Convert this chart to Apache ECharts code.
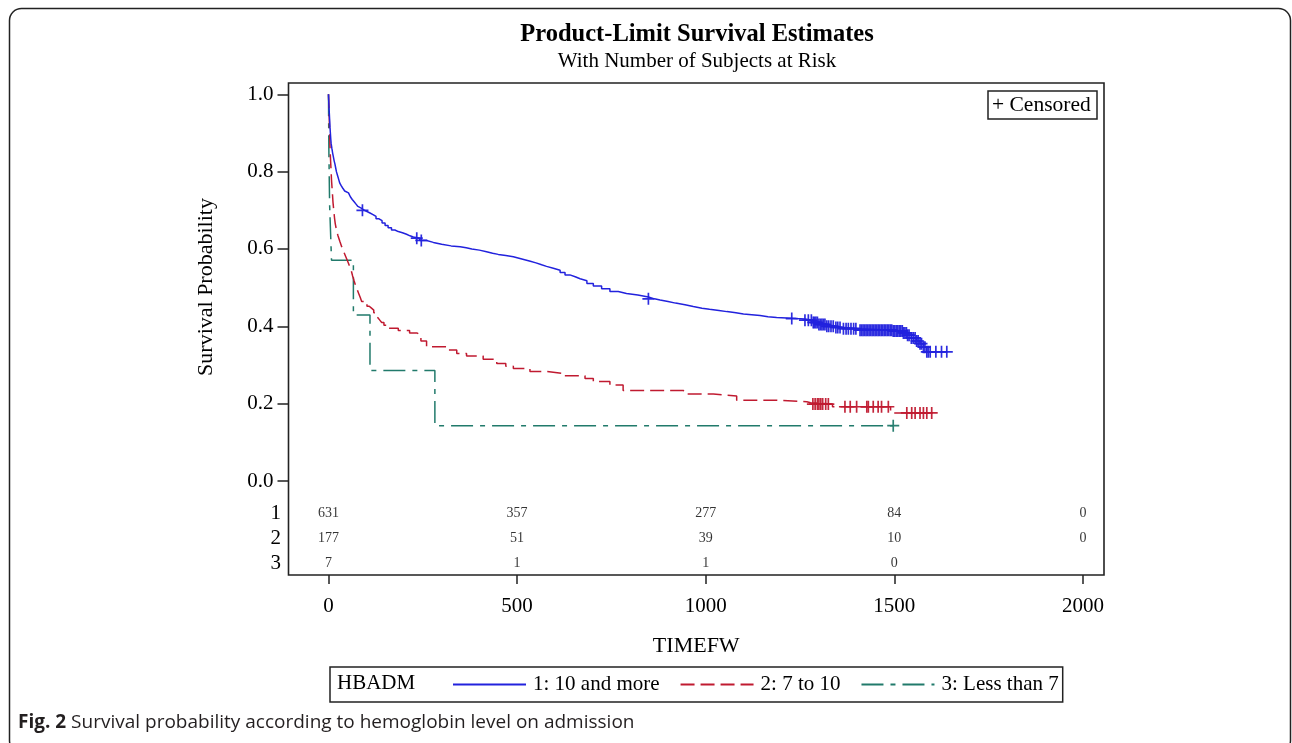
<!DOCTYPE html>
<html>
<head>
<meta charset="utf-8">
<script src="https://cdn.jsdelivr.net/npm/echarts@6/dist/echarts.min.js"></script>
<style>
html,body{margin:0;padding:0;background:#fff;}
#chart{width:1292px;height:743px;}
</style>
</head>
<body>
<div id="chart"></div>
<script>
// ---------- data ----------
var groupNames = ['1: 10 and more', '2: 7 to 10', '3: Less than 7'];
var xTicks = [0, 500, 1000, 1500, 2000];
var yTicks = [0, 0.2, 0.4, 0.6, 0.8, 1.0];

// Kaplan-Meier steps [time, survival]
var km1 = [[0,1.0],[1,0.975],[2,0.955],[3,0.935],[4,0.915],[5,0.9],[6,0.885],[7,0.873],[9,0.86],[11,0.848],[13,0.838],[15,0.828],[17,0.82],[19,0.81],[21,0.80],[24,0.79],[27,0.78],[30,0.77],[34,0.763],[38,0.757],[43,0.75],[48,0.745],[53,0.74],[58,0.735],[63,0.728],[68,0.722],[73,0.716],[78,0.71],[83,0.705],[88,0.70],[95,0.697],[102,0.693],[110,0.689],[118,0.684],[126,0.678],[134,0.673],[142,0.667],[150,0.661],[158,0.655],[167,0.649],[176,0.645],[185,0.642],[196,0.638],[207,0.634],[216,0.631],[225,0.628],[242,0.622],[260,0.617],[278,0.612],[300,0.608],[325,0.606],[349,0.603],[365,0.6],[380,0.597],[400,0.593],[419,0.589],[435,0.586],[450,0.583],[470,0.58],[490,0.576],[505,0.572],[520,0.568],[535,0.564],[550,0.559],[565,0.555],[578,0.55],[596,0.545],[614,0.539],[627,0.533],[640,0.528],[654,0.523],[667,0.518],[685,0.511],[702,0.504],[724,0.497],[746,0.49],[768,0.485],[790,0.481],[820,0.476],[848,0.471],[864,0.468],[879,0.464],[900,0.46],[920,0.456],[945,0.451],[967,0.447],[990,0.444],[1010,0.441],[1035,0.438],[1056,0.435],[1080,0.432],[1100,0.43],[1122,0.428],[1144,0.425],[1165,0.423],[1188,0.42],[1240,0.419],[1263,0.416],[1285,0.41],[1300,0.405],[1321,0.40],[1345,0.397],[1365,0.394],[1409,0.39],[1497,0.388],[1524,0.383],[1535,0.377],[1545,0.37],[1559,0.362],[1568,0.355],[1577,0.346],[1586,0.334],[1639,0.334]];
var km2 = [[0,1.0],[1,0.97],[2,0.94],[3,0.9],[4,0.864],[5,0.84],[6,0.82],[7,0.8],[8,0.778],[10,0.75],[12,0.72],[14,0.70],[16,0.68],[18,0.665],[21,0.65],[25,0.635],[30,0.62],[35,0.606],[40,0.594],[45,0.582],[50,0.57],[55,0.558],[60,0.545],[64,0.53],[68,0.517],[72,0.505],[76,0.495],[80,0.485],[84,0.475],[88,0.464],[95,0.458],[102,0.452],[108,0.447],[114,0.442],[120,0.435],[126,0.428],[131,0.422],[136,0.416],[141,0.41],[147,0.403],[154,0.395],[185,0.389],[215,0.383],[234,0.378],[245,0.362],[260,0.347],[313,0.339],[340,0.33],[366,0.323],[410,0.315],[446,0.304],[470,0.297],[490,0.291],[534,0.283],[580,0.278],[622,0.272],[680,0.265],[702,0.257],[746,0.248],[781,0.234],[940,0.231],[950,0.225],[1020,0.22],[1082,0.209],[1180,0.205],[1268,0.2025],[1278,0.199],[1336,0.192],[1490,0.176],[1599,0.176]];
var km3 = [[0,1.0],[1,0.857],[3,0.714],[8,0.571],[66,0.429],[110,0.286],[282,0.143],[1497,0.143]];

// censored observations [time, survival]
var cens1 = [[90,0.70],[234,0.628],[246,0.622],[848,0.471],[1228,0.42],[1263,0.416],[1272,0.416],[1280,0.416],[1285,0.41],[1288,0.41],[1292,0.41],[1296,0.41],[1300,0.405],[1304,0.405],[1308,0.405],[1312,0.405],[1316,0.405],[1321,0.40],[1326,0.40],[1332,0.40],[1338,0.40],[1345,0.397],[1350,0.397],[1356,0.397],[1365,0.394],[1372,0.394],[1378,0.394],[1385,0.394],[1392,0.394],[1398,0.394],[1409,0.39],[1413,0.39],[1417,0.39],[1421,0.39],[1425,0.39],[1429,0.39],[1433,0.39],[1437,0.39],[1441,0.39],[1445,0.39],[1449,0.39],[1453,0.39],[1457,0.39],[1461,0.39],[1465,0.39],[1469,0.39],[1473,0.39],[1477,0.39],[1481,0.39],[1485,0.39],[1489,0.39],[1493,0.39],[1497,0.388],[1501,0.388],[1505,0.388],[1509,0.388],[1513,0.388],[1517,0.388],[1521,0.388],[1524,0.383],[1528,0.383],[1532,0.383],[1535,0.377],[1539,0.377],[1545,0.37],[1550,0.37],[1555,0.37],[1559,0.362],[1563,0.362],[1568,0.355],[1572,0.355],[1577,0.346],[1581,0.346],[1586,0.334],[1590,0.334],[1595,0.334],[1610,0.334],[1625,0.334],[1639,0.334]];
var cens2 = [[1284,0.199],[1290,0.199],[1296,0.199],[1300,0.199],[1305,0.199],[1310,0.199],[1318,0.199],[1325,0.199],[1369,0.192],[1383,0.192],[1400,0.192],[1427,0.192],[1431,0.192],[1444,0.192],[1457,0.192],[1466,0.192],[1484,0.192],[1533,0.176],[1546,0.176],[1555,0.176],[1568,0.176],[1577,0.176],[1586,0.176],[1599,0.176]];
var cens3 = [[1497,0.143]];

// number at risk
var riskTimes = [0, 500, 1000, 1500, 2000];
var risk1 = [631, 357, 277, 84, 0];
var risk2 = [177, 51, 39, 10, 0];
var risk3 = [7, 1, 1, 0];

// ---------- styling ----------
var colors = ['#2222dd', '#c01a30', '#217a6b'];
var dashes = ['solid', [14, 6], [22, 7, 5, 7]];
var serif = '"Liberation Serif", "Times New Roman", serif';
var plus = 'path://M4.3,0h1.4v4.3h4.3v1.4h-4.3v4.3h-1.4v-4.3h-4.3v-1.4h4.3z';
var rowY = [-0.0828, -0.1474, -0.2120];

var chart = echarts.init(document.getElementById('chart'), null, {renderer: 'canvas'});

var kms = [km1, km2, km3];
var censs = [cens1, cens2, cens3];
var risks = [risk1, risk2, risk3];
var series = [];
kms.forEach(function (d, i) {
  series.push({
    name: groupNames[i], type: 'line', step: 'end', data: d,
    symbol: 'none', showSymbol: false,
    lineStyle: {color: colors[i], width: 1.5, type: dashes[i]},
    itemStyle: {color: colors[i]},
    z: 3 - i
  });
});
censs.forEach(function (d, i) {
  series.push({
    name: 'cens' + (i + 1), type: 'scatter', data: d,
    symbol: plus, symbolSize: 12,
    itemStyle: {color: colors[i], opacity: 0.95}, z: 4
  });
});
risks.forEach(function (r, i) {
  series.push({
    name: 'risk' + (i + 1), type: 'scatter', symbolSize: 0, silent: true,
    data: r.map(function (v, k) { return [riskTimes[k], rowY[i], v]; }),
    label: {show: true, position: 'inside', color: '#000', fontFamily: serif, fontSize: 14,
      formatter: function (p) { return String(p.value[2]); }}
  });
});

var option = {
  animation: false,
  backgroundColor: '#fff',
  grid: {left: 288.5, top: 83, width: 815.5, height: 492, show: true,
    borderColor: '#222', borderWidth: 1.6, backgroundColor: 'transparent'},
  xAxis: {
    type: 'value', min: -106, max: 2055.7,
    name: 'TIMEFW', nameLocation: 'middle', nameGap: 60,
    nameTextStyle: {fontFamily: serif, fontSize: 22, color: '#000'},
    axisLine: {show: false, onZero: false},
    axisTick: {show: true, length: 9, customValues: xTicks, lineStyle: {color: '#222', width: 1.5}},
    axisLabel: {customValues: xTicks, margin: 21, fontFamily: serif, fontSize: 21, color: '#000',
      formatter: function (v) { return String(v); }},
    splitLine: {show: false}
  },
  yAxis: {
    type: 'value', min: -0.2431, max: 1.0292,
    axisLine: {show: false, onZero: false},
    axisTick: {show: true, length: 11, customValues: yTicks, lineStyle: {color: '#222', width: 1.5}},
    axisLabel: {customValues: yTicks, margin: 15, fontFamily: serif, fontSize: 21, color: '#000',
      formatter: function (v) { return v.toFixed(1); }},
    splitLine: {show: false}
  },
  legend: {
    data: groupNames, left: 330, top: 667,
    orient: 'horizontal', itemWidth: 73, itemHeight: 14, itemGap: 20,
    padding: [7, 4, 7, 122], borderColor: '#222', borderWidth: 1.5,
    itemStyle: {opacity: 0},
    textStyle: {fontFamily: serif, fontSize: 21, color: '#000', padding: [0, 0, 0, 2]},
    selectedMode: false
  },
  graphic: [
    {type: 'rect', shape: {x: 9.5, y: 8.5, width: 1281, height: 744, r: 12},
      style: {fill: 'none', stroke: '#222', lineWidth: 1.5}, silent: true},
    {type: 'text', x: 697, y: 35, style: {text: 'Product-Limit Survival Estimates', font: 'bold 24.5px ' + serif,
      align: 'center', verticalAlign: 'middle', textAlign: 'center', textVerticalAlign: 'middle', fill: '#000'}},
    {type: 'text', x: 697, y: 61, style: {text: 'With Number of Subjects at Risk', font: '21px ' + serif,
      align: 'center', verticalAlign: 'middle', textAlign: 'center', textVerticalAlign: 'middle', fill: '#000'}},
    {type: 'text', x: 206, y: 287, rotation: Math.PI / 2, style: {text: 'Survival Probability', font: '22px ' + serif,
      align: 'center', verticalAlign: 'middle', textAlign: 'center', textVerticalAlign: 'middle', fill: '#000'}},
    {type: 'rect', shape: {x: 988, y: 91, width: 109, height: 28},
      style: {fill: '#fff', stroke: '#222', lineWidth: 1.5}, z: 10},
    {type: 'text', x: 992, y: 105, z: 11, style: {text: '+ Censored', font: '21.5px ' + serif,
      align: 'left', verticalAlign: 'middle', textAlign: 'left', textVerticalAlign: 'middle', fill: '#000'}},
    {type: 'text', x: 337, y: 683, z: 11, style: {text: 'HBADM', font: '21px ' + serif,
      align: 'left', verticalAlign: 'middle', textAlign: 'left', textVerticalAlign: 'middle', fill: '#000'}},
    {type: 'text', x: 281, y: 513, style: {text: '1', font: '21px ' + serif, align: 'right', verticalAlign: 'middle', textAlign: 'right', textVerticalAlign: 'middle', fill: '#000'}},
    {type: 'text', x: 281, y: 538, style: {text: '2', font: '21px ' + serif, align: 'right', verticalAlign: 'middle', textAlign: 'right', textVerticalAlign: 'middle', fill: '#000'}},
    {type: 'text', x: 281, y: 563, style: {text: '3', font: '21px ' + serif, align: 'right', verticalAlign: 'middle', textAlign: 'right', textVerticalAlign: 'middle', fill: '#000'}},
    {type: 'text', x: 18, y: 723, style: {
      text: '{b|Fig. 2} Survival probability according to hemoglobin level on admission',
      font: '19px "Open Sans", sans-serif', fill: '#231f20',
      align: 'left', verticalAlign: 'middle', textAlign: 'left', textVerticalAlign: 'middle',
      rich: {b: {fontWeight: 'bold', fontFamily: '"Open Sans", sans-serif', fontSize: 19, fill: '#231f20'}}}}
  ],
  series: series
};
chart.setOption(option);
</script>
</body>
</html>
